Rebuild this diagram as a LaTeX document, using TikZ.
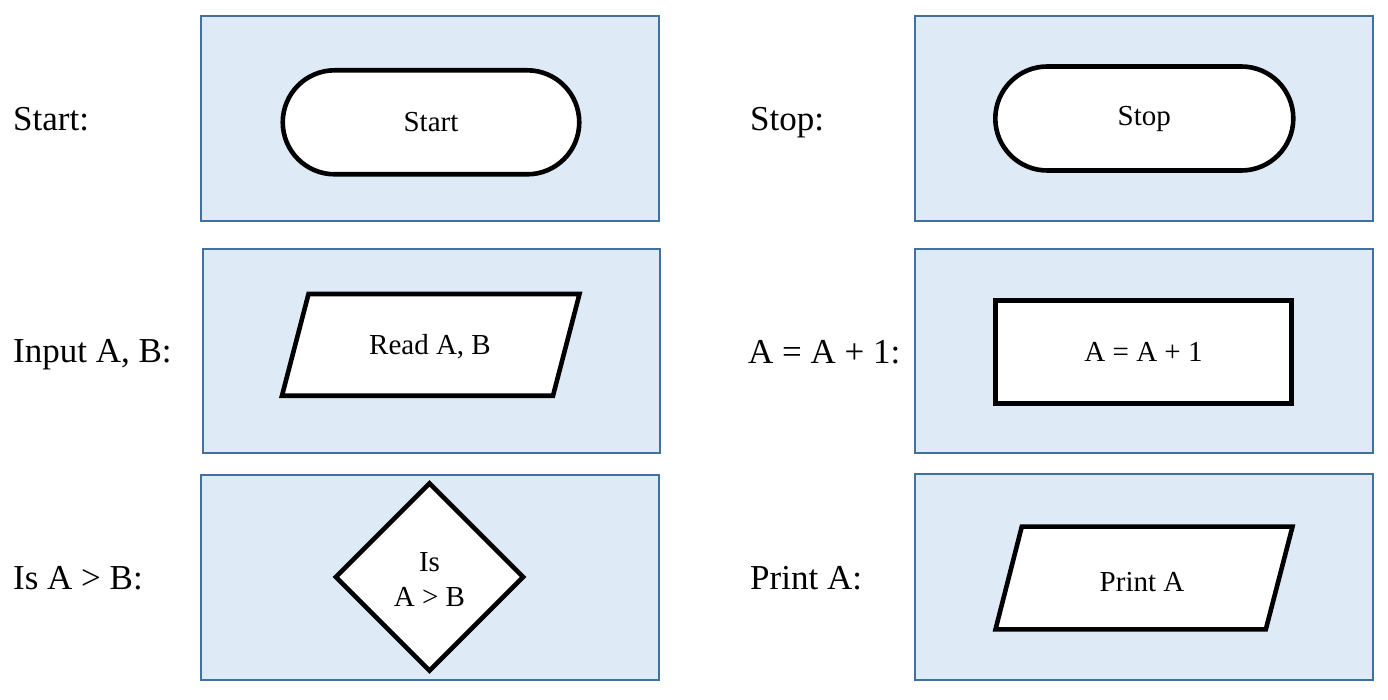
\documentclass[tikz,border=0pt]{standalone}
\usepackage{fontspec}
\setmainfont{Liberation Serif}
\usetikzlibrary{shapes.geometric}
\definecolor{panelfill}{RGB}{222,235,247}
\definecolor{panelline}{RGB}{65,113,156}
\begin{document}
\begin{tikzpicture}[x=1pt,y=-1pt,
  panel/.style={draw=panelline, fill=panelfill, line width=2pt},
  shapeline/.style={draw=black, fill=white, line width=4.6pt, line join=miter},
  lbl/.style={anchor=base west, inner sep=0pt, font=\fontsize{35}{40}\selectfont},
  txt/.style={inner sep=0pt, font=\fontsize{29}{35}\selectfont, align=center}]
\useasboundingbox (0,0) rectangle (1388,700);

% panels
\draw[panel] (201,16) rectangle (659,221);
\draw[panel] (203,249) rectangle (660,453);
\draw[panel] (201,475) rectangle (659,680);
\draw[panel] (915,16) rectangle (1373,221);
\draw[panel] (915,249) rectangle (1373,453);
\draw[panel] (915,474) rectangle (1373,680);

% labels
\node[lbl] (lstart) at (13,130.7) {Start:};
\node[lbl] (linput) at (13,362) {Input A, B:};
\node[lbl] (lis) at (13,589) {Is A > B:};
\node[lbl] (lstop) at (750,131) {Stop:};
\node[lbl] (lassign) at (748,363) {A = A + 1:};
\node[lbl] (lprint) at (750,589) {Print A:};

% terminators
\node[shapeline, txt, rounded corners=52pt, minimum width=296.5pt, minimum height=104pt] (start) at (431,122.3) {Start};
\node[shapeline, txt, rounded corners=52pt, minimum width=298pt, minimum height=104pt] (stop) at (1144.3,118.5) {Stop};

% process
\node[shapeline, txt, rectangle, minimum width=296.5pt, minimum height=103.5pt] (assign) at (1143.5,352) {A = A + 1};

% input / output parallelograms
\draw[shapeline] (308.5,294) -- (579.5,294) -- (553,395.7) -- (282,395.7) -- cycle;
\node[txt] (read) at (430,346.7) {Read A, B};
\draw[shapeline] (1021.8,526.6) -- (1292.5,526.6) -- (1265.8,629.4) -- (995.5,629.4) -- cycle;
\node[txt] (print) at (1142,581.7) {Print A};

% decision
\node[shapeline, diamond, minimum width=189pt, minimum height=189pt, inner sep=0pt] (dec) at (429.5,577) {};
\node[txt] (dectext) at (429.5,579.2) {Is\\A > B};
\end{tikzpicture}
\end{document}
